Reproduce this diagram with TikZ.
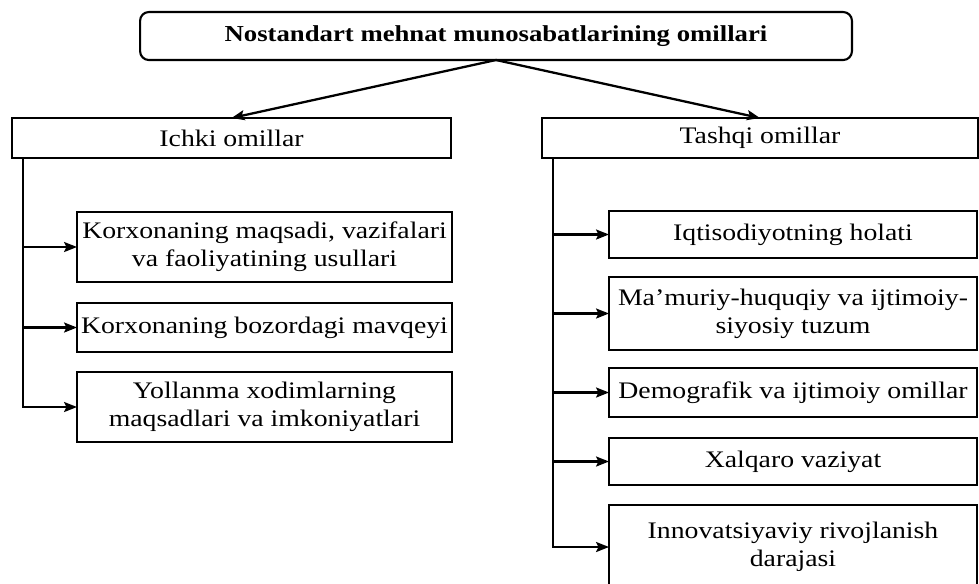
\documentclass[tikz,border=0pt]{standalone}
\usepackage{fontspec}
\setmainfont{Liberation Serif}[FakeStretch=1.17]
\usetikzlibrary{arrows.meta, positioning}

\begin{document}
\begin{tikzpicture}[
  x=0.02cm, y=-0.02cm,
  box/.style={rectangle, draw, line width=1.2pt, inner sep=0pt, outer sep=0pt, align=center, font=\fontsize{13.5pt}{16pt}\selectfont},
  headbox/.style={box, rounded corners=5pt, font=\fontsize{13pt}{16pt}\selectfont\bfseries},
  arrow/.style={-{Stealth[length=2.6mm, width=2mm, inset=0.5mm]}, line width=1.3pt}
]
  \useasboundingbox (0,0) rectangle (979,583);

  % Top level
  \node[headbox, minimum width=14.24cm, minimum height=0.96cm] (main) at (496,36) {Nostandart mehnat munosabatlarining omillari};
  \node[box, minimum width=8.78cm, minimum height=0.8cm] (ichki) at (231.5,138) {Ichki omillar};
  \node[box, minimum width=8.72cm, minimum height=0.8cm] (tashqi) at (760,138) {Tashqi omillar};
  \draw[arrow] (main.south) -- (ichki.north);
  \draw[arrow] (main.south) -- (tashqi.north);

  % Ichki omillar
  \node[box, minimum width=7.5cm, minimum height=1.4cm] (ich1) at (264.5,247) {Korxonaning maqsadi, vazifalari\\va faoliyatining usullari};
  \node[box, minimum width=7.5cm, minimum height=0.98cm] (ich2) at (264.5,327.5) {Korxonaning bozordagi mavqeyi};
  \node[box, minimum width=7.5cm, minimum height=1.4cm] (ich3) at (264.5,407) {Yollanma xodimlarning\\maqsadlari va imkoniyatlari};
  \coordinate (ltrunk) at (23,158);
  \foreach \n in {ich1, ich2, ich3}
    \draw[arrow] (ltrunk) |- (\n.west);

  % Tashqi omillar
  \node[box, minimum width=7.36cm, minimum height=0.94cm] (tash1) at (793,234.5) {Iqtisodiyotning holati};
  \node[box, minimum width=7.36cm, minimum height=1.46cm] (tash2) at (793,313.5) {Ma'muriy-huquqiy va ijtimoiy-\\siyosiy tuzum};
  \node[box, minimum width=7.36cm, minimum height=0.98cm] (tash3) at (793,392.5) {Demografik va ijtimoiy omillar};
  \node[box, minimum width=7.36cm, minimum height=0.94cm] (tash4) at (793,461.5) {Xalqaro vaziyat};
  \node[box, minimum width=7.36cm, minimum height=1.68cm] (tash5) at (793,547) {Innovatsiyaviy rivojlanish\\darajasi};
  \coordinate (rtrunk) at (553,158);
  \foreach \n in {tash1, tash2, tash3, tash4, tash5}
    \draw[arrow] (rtrunk) |- (\n.west);
\end{tikzpicture}
\end{document}
